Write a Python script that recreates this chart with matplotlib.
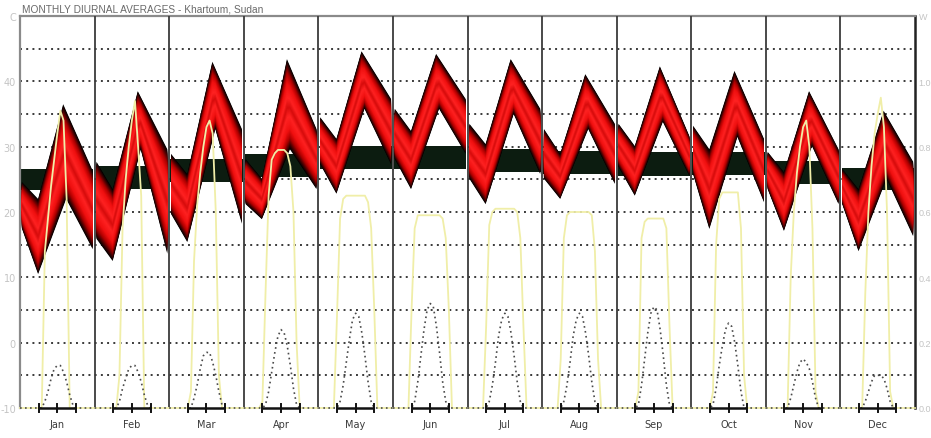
import numpy as np
import matplotlib
matplotlib.use("Agg")
import matplotlib.pyplot as plt
from matplotlib.colors import LinearSegmentedColormap

months = ["Jan", "Feb", "Mar", "Apr", "May", "Jun",
          "Jul", "Aug", "Sep", "Oct", "Nov", "Dec"]

# Vertices of the hourly temperature envelope (deg C) for each month
upper_hours = [0, 5.5, 14, 24]
lower_hours = [0, 5.5, 15, 24]
temp_upper = [
    [24.6, 22.0, 36.5, 26.3],
    [27.7, 23.5, 38.5, 29.6],
    [28.9, 25.8, 43.0, 32.7],
    [28.1, 25.1, 43.4, 32.7],
    [34.5, 31.2, 44.6, 37.3],
    [35.8, 32.4, 44.2, 37.3],
    [33.5, 30.4, 43.4, 35.8],
    [32.7, 28.9, 41.1, 33.5],
    [33.5, 30.1, 42.3, 31.6],
    [33.2, 29.6, 41.6, 31.2],
    [29.2, 26.1, 38.5, 29.6],
    [26.6, 23.5, 35.5, 27.7],
]
temp_lower = [
    [17.5, 10.5, 22.0, 14.3],
    [15.9, 12.5, 29.6, 13.6],
    [19.7, 15.4, 32.7, 18.2],
    [21.2, 18.9, 29.6, 23.5],
    [27.3, 22.8, 35.8, 27.3],
    [28.1, 23.5, 35.8, 28.9],
    [25.1, 21.2, 35.0, 25.8],
    [25.1, 22.0, 32.7, 24.3],
    [26.9, 22.5, 33.8, 25.5],
    [25.8, 17.4, 31.5, 21.5],
    [23.5, 17.1, 30.1, 21.2],
    [21.2, 14.0, 25.1, 16.3],
]

# Thermal comfort band per month (deg C)
comfort_low = [23.4, 23.5, 24.6, 25.4, 26.6, 26.6, 26.1, 25.8, 25.5, 25.7, 24.3, 23.4]
comfort_high = [26.6, 27.0, 28.1, 28.9, 30.1, 30.1, 29.6, 29.3, 29.2, 29.2, 27.8, 26.7]

# Hourly solar radiation (kW/m2) for hours 5..20
solar_hours = list(range(5, 21))
direct = [
    [0, 0, 0, 0.48, 0.58, 0.68, 0.76, 0.84, 0.91, 0.88, 0.64, 0, 0, 0, 0, 0],
    [0, 0, 0, 0.10, 0.55, 0.70, 0.80, 0.88, 0.94, 0.80, 0.65, 0, 0, 0, 0, 0],
    [0, 0, 0.05, 0.45, 0.62, 0.72, 0.80, 0.86, 0.88, 0.84, 0.60, 0.10, 0, 0, 0, 0],
    [0, 0.02, 0.35, 0.65, 0.76, 0.78, 0.79, 0.79, 0.79, 0.78, 0.74, 0.60, 0.20, 0, 0, 0],
    [0, 0.28, 0.58, 0.64, 0.65, 0.65, 0.65, 0.65, 0.65, 0.65, 0.65, 0.63, 0.55, 0.30, 0, 0],
    [0, 0.30, 0.55, 0.59, 0.59, 0.59, 0.59, 0.59, 0.59, 0.59, 0.59, 0.58, 0.52, 0.30, 0, 0],
    [0, 0.25, 0.56, 0.60, 0.61, 0.61, 0.61, 0.61, 0.61, 0.61, 0.61, 0.60, 0.52, 0.25, 0, 0],
    [0, 0.15, 0.52, 0.59, 0.60, 0.60, 0.60, 0.60, 0.60, 0.60, 0.60, 0.59, 0.48, 0.15, 0, 0],
    [0, 0, 0.05, 0.52, 0.57, 0.58, 0.58, 0.58, 0.58, 0.58, 0.58, 0.55, 0.25, 0, 0, 0],
    [0, 0, 0.05, 0.50, 0.64, 0.66, 0.66, 0.66, 0.66, 0.66, 0.66, 0.55, 0.10, 0, 0, 0],
    [0, 0, 0, 0.40, 0.60, 0.72, 0.80, 0.86, 0.88, 0.80, 0.55, 0.05, 0, 0, 0, 0],
    [0, 0, 0, 0.35, 0.60, 0.74, 0.84, 0.90, 0.95, 0.86, 0.60, 0.05, 0, 0, 0, 0],
]
diffuse = [
    [0, 0, 0, 0.02, 0.05, 0.09, 0.12, 0.13, 0.13, 0.11, 0.08, 0.04, 0.01, 0, 0, 0],
    [0, 0, 0, 0.02, 0.06, 0.09, 0.12, 0.13, 0.13, 0.11, 0.08, 0.04, 0.01, 0, 0, 0],
    [0, 0, 0, 0.03, 0.07, 0.12, 0.16, 0.17, 0.17, 0.14, 0.10, 0.05, 0.01, 0, 0, 0],
    [0, 0, 0.01, 0.05, 0.11, 0.17, 0.22, 0.24, 0.23, 0.19, 0.13, 0.06, 0.01, 0, 0, 0],
    [0, 0, 0.02, 0.07, 0.14, 0.21, 0.27, 0.29, 0.28, 0.23, 0.16, 0.08, 0.02, 0, 0, 0],
    [0, 0, 0.02, 0.08, 0.16, 0.24, 0.30, 0.32, 0.31, 0.25, 0.17, 0.08, 0.02, 0, 0, 0],
    [0, 0, 0.02, 0.07, 0.14, 0.22, 0.27, 0.29, 0.28, 0.23, 0.16, 0.08, 0.02, 0, 0, 0],
    [0, 0, 0.02, 0.07, 0.14, 0.22, 0.27, 0.29, 0.28, 0.23, 0.16, 0.08, 0.02, 0, 0, 0],
    [0, 0, 0.01, 0.07, 0.15, 0.23, 0.29, 0.31, 0.30, 0.24, 0.16, 0.07, 0.01, 0, 0, 0],
    [0, 0, 0.01, 0.06, 0.13, 0.19, 0.24, 0.26, 0.25, 0.20, 0.13, 0.05, 0, 0, 0, 0],
    [0, 0, 0, 0.03, 0.07, 0.11, 0.14, 0.15, 0.14, 0.12, 0.08, 0.03, 0, 0, 0, 0],
    [0, 0, 0, 0.02, 0.05, 0.08, 0.10, 0.10, 0.10, 0.09, 0.06, 0.02, 0, 0, 0, 0],
]

T_MIN, T_MAX = -10, 50
R_MAX = 1.2
DAY = 24

W, H = 931, 439
fig = plt.figure(figsize=(W / 100, H / 100), dpi=100)
fig.patch.set_facecolor("white")
ax = fig.add_axes([20 / W, 30 / H, 895 / W, 392 / H])
ax.set_xlim(0, 12 * DAY)
ax.set_ylim(T_MIN, T_MAX)
ax.set_facecolor("white")

# dotted grid every 5 degrees
for t in range(-5, 50, 5):
    ax.plot([0, 12 * DAY], [t, t], color="#3a3a3a", lw=1.4,
            linestyle=(0, (1.0, 2.2)), zorder=1)

band_cmap = LinearSegmentedColormap.from_list(
    "band", [(0.0, "#000000"), (0.1, "#3a0000"), (0.28, "#b00000"),
             (0.5, "#f01010"), (0.8, "#ff2222"), (1.0, "#d80c0c")])

for m in range(12):
    x0 = m * DAY
    # common hour grid holding both envelope edges
    hx = np.union1d(upper_hours, lower_hours)
    up = np.interp(hx, upper_hours, temp_upper[m])
    lo = np.interp(hx, lower_hours, temp_lower[m])
    xs = x0 + 0.6 + hx * (DAY - 1.2) / DAY

    # comfort band
    ax.fill_between([x0 + 0.4, x0 + DAY - 0.4], comfort_low[m], comfort_high[m],
                    color="#0c1c10", lw=0, zorder=2)

    # temperature envelope, shaded from the edges inwards
    levels = np.linspace(0, 0.49, 40)
    for i, f in enumerate(levels):
        span = up - lo
        top = up - f * span
        bot = lo + f * span
        c = band_cmap(i / (len(levels) - 1))
        poly_x = np.concatenate([xs, xs[::-1]])
        poly_y = np.concatenate([top, bot[::-1]])
        ax.fill(poly_x, poly_y, color=c, lw=0, zorder=3)

# month separators
for m in range(1, 12):
    ax.plot([m * DAY, m * DAY], [T_MIN, T_MAX], color="#3c3c3c", lw=1.3, zorder=6)

for side in ["left", "top"]:
    ax.spines[side].set_color("#8a8a8a")
    ax.spines[side].set_linewidth(1.6)
ax.spines["right"].set_color("#222222")
ax.spines["right"].set_linewidth(1.8)
ax.spines["bottom"].set_visible(False)

ax.set_yticks([-10, 0, 10, 20, 30, 40, 50])
ax.set_yticklabels(["-10", "0", "10", "20", "30", "40", "C"])
ax.tick_params(axis="y", length=0, pad=3, labelsize=7, labelcolor="#c4c4c4")
ax.set_xticks([])

# radiation on the secondary scale
ax2 = ax.twinx()
ax2.set_ylim(0, R_MAX)
ax2.set_xlim(0, 12 * DAY)
for s in ax2.spines.values():
    s.set_visible(False)
ax2.set_yticks([0, 0.2, 0.4, 0.6, 0.8, 1.0, 1.2])
ax2.set_yticklabels(["0.0", "0.2", "0.4", "0.6", "0.8", "1.0", "W"])
ax2.tick_params(axis="y", length=0, pad=2.5, labelsize=6.5, labelcolor="#c4c4c4")
for lab in ax2.get_yticklabels():
    lab.set_family("Liberation Sans")

for m in range(12):
    x0 = m * DAY
    hrs = np.array([0] + solar_hours + [DAY], dtype=float)
    d = np.array([0] + direct[m] + [0])
    f = np.array([0] + diffuse[m] + [0])
    ax2.plot(x0 + hrs, d, color="#f0eea8", lw=1.3, zorder=4, clip_on=False)
    ax2.plot(x0 + hrs, f, color="#4a4a4a", lw=1.2, linestyle=(0, (1.0, 2.0)),
             zorder=5, clip_on=False)
    # daylight axis segment with hour ticks
    ax2.plot([x0 + 6, x0 + 18], [0, 0], color="#111111", lw=1.8, zorder=7,
             clip_on=False, solid_capstyle="butt")
    for th in (6, 12, 18):
        ax2.plot([x0 + th, x0 + th], [-0.012, 0.012], color="#111111", lw=1.4,
                 zorder=7, clip_on=False)
    ax2.text(x0 + 12, -0.048, months[m], ha="center", va="center",
             fontsize=7, color="#3a3a3a")

fig.text(22 / W, 1 - 10 / H, "MONTHLY DIURNAL AVERAGES - Khartoum, Sudan",
         ha="left", va="center", fontsize=7.3, color="#6a6a6a",
         family="Liberation Sans")

fig.savefig("out.png", dpi=100, facecolor="white")
